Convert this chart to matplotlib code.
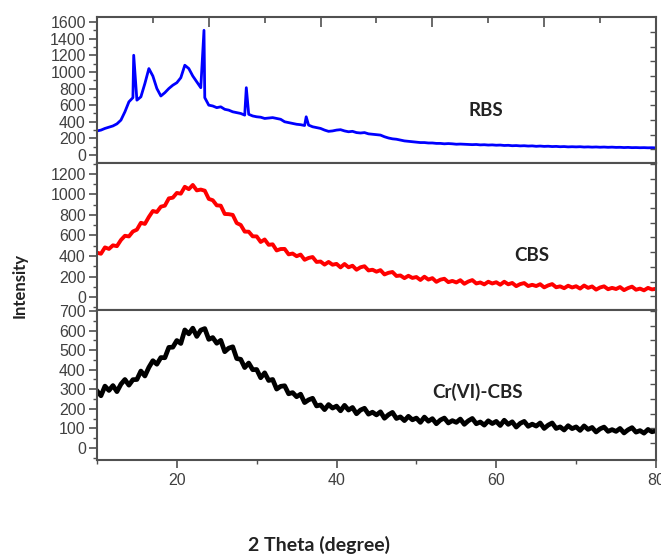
import numpy as np
import matplotlib.pyplot as plt
from matplotlib.ticker import MultipleLocator, FixedLocator, NullFormatter

# 2 theta grid, 0.5 degree steps from 10 to 80
two_theta = np.linspace(10, 80, 141)

# RBS (raw), values
rbs = [
    290, 300, 320, 335, 350, 375, 420, 520, 640, 690,
    660, 700, 860, 1040, 950, 800, 710, 750, 800, 840,
    870, 930, 1080, 1040, 950, 880, 810, 690, 600, 590,
    570, 580, 550, 540, 520, 510, 500, 480, 490, 470,
    460, 455, 440, 445, 450, 440, 430, 400, 390, 380,
    370, 365, 355, 360, 340, 330, 320, 300, 285, 290,
    300, 305, 290, 280, 285, 270, 265, 270, 255, 250,
    245, 240, 220, 205, 195, 190, 180, 170, 165, 160,
    155, 150, 150, 145, 145, 140, 140, 135, 138, 135,
    130, 132, 130, 128, 125, 127, 122, 124, 120, 122,
    118, 120, 115, 117, 112, 114, 110, 112, 108, 110,
    105, 108, 104, 106, 102, 104, 100, 102, 98, 100,
    98, 100, 96, 98, 95, 97, 94, 96, 93, 95,
    92, 93, 90, 92, 89, 90, 88, 89, 87, 88,
    86,
]
# sharp crystalline peaks of RBS
rbs_peak_x = [14.6, 23.4, 28.7, 36.2]
rbs_peak_y = [1200, 1500, 810, 460]

# CBS
cbs = [
    432, 422, 484, 469, 504, 496, 556, 597, 591, 639,
    657, 724, 713, 781, 839, 829, 881, 891, 962, 969,
    1015, 1008, 1075, 1052, 1093, 1040, 1048, 1037, 957, 944,
    894, 891, 810, 808, 801, 721, 703, 638, 637, 592,
    591, 537, 561, 509, 514, 454, 468, 469, 416, 424,
    398, 414, 363, 381, 390, 342, 346, 316, 342, 315,
    323, 289, 322, 290, 305, 266, 290, 300, 259, 266,
    247, 262, 220, 236, 244, 205, 210, 184, 207, 186,
    195, 166, 198, 170, 184, 148, 169, 178, 145, 157,
    142, 164, 129, 151, 165, 132, 142, 123, 149, 132,
    144, 120, 149, 124, 137, 106, 126, 136, 107, 119,
    107, 125, 94, 113, 126, 95, 104, 86, 110, 93,
    105, 82, 112, 89, 103, 72, 93, 104, 76, 89,
    78, 97, 67, 87, 101, 71, 82, 65, 89, 74,
    80,
]

# Cr(VI)-CBS
cr_cbs = [
    292, 267, 316, 294, 319, 288, 326, 350, 321, 349,
    350, 393, 368, 412, 446, 428, 462, 461, 514, 515,
    549, 534, 603, 583, 612, 570, 602, 610, 555, 564,
    535, 550, 492, 510, 517, 457, 453, 411, 434, 400,
    401, 359, 384, 345, 350, 301, 315, 318, 277, 283,
    262, 275, 232, 246, 254, 215, 220, 196, 222, 204,
    214, 190, 218, 194, 207, 175, 194, 203, 173, 183,
    169, 185, 152, 170, 182, 151, 159, 140, 162, 144,
    153, 131, 158, 137, 150, 124, 143, 153, 128, 140,
    131, 148, 121, 139, 151, 124, 133, 117, 139, 125,
    136, 115, 142, 121, 134, 107, 126, 136, 111, 122,
    112, 128, 100, 117, 128, 100, 108, 92, 114, 99,
    108, 90, 113, 95, 105, 82, 98, 107, 85, 94,
    85, 100, 77, 93, 104, 81, 89, 76, 95, 83,
    88,
]

labels = ["RBS", "CBS", "Cr(VI)-CBS"]
colors = ["#0000ff", "#ff0000", "#000000"]

# merge the RBS peaks into its trace
rbs_x = np.concatenate([two_theta, rbs_peak_x])
rbs_y = np.concatenate([rbs, rbs_peak_y])
order = np.argsort(rbs_x)
rbs_x, rbs_y = rbs_x[order], rbs_y[order]

tick_font = "Liberation Sans"
label_font = "Lato"
spine_col = "#505050"
text_col = "#404040"

fig = plt.figure(figsize=(6.61, 5.56), dpi=100)
left, width = 0.1467, 0.8457
ax_top = fig.add_axes([left, 0.7068, width, 0.2626])
ax_mid = fig.add_axes([left, 0.4424, width, 0.2644])
ax_bot = fig.add_axes([left, 0.1727, width, 0.2698])
axes = [ax_top, ax_mid, ax_bot]

ax_top.plot(rbs_x, rbs_y, color=colors[0], lw=2.0)
ax_mid.plot(two_theta, cbs, color=colors[1], lw=2.8)
ax_bot.plot(two_theta, cr_cbs, color=colors[2], lw=3.4)

ax_top.set_ylim(-96, 1660)
ax_mid.set_ylim(-127, 1307)
ax_bot.set_ylim(-61, 705)
ax_top.yaxis.set_major_locator(MultipleLocator(200))
ax_top.yaxis.set_minor_locator(MultipleLocator(100))
ax_mid.yaxis.set_major_locator(MultipleLocator(200))
ax_mid.yaxis.set_minor_locator(MultipleLocator(100))
ax_bot.yaxis.set_major_locator(MultipleLocator(100))
ax_bot.yaxis.set_minor_locator(MultipleLocator(50))

for ax in axes:
    ax.set_xlim(10, 80)
    for s in ax.spines.values():
        s.set_color(spine_col)
        s.set_linewidth(1.5)
    ax.tick_params(axis="y", which="major", direction="out", length=6, width=1.2,
                   color=spine_col, labelcolor=text_col, labelsize=11.5, pad=2)
    ax.tick_params(axis="y", which="minor", direction="out", length=3, width=1.0,
                   color=spine_col)
    for t in ax.get_yticklabels():
        t.set_fontfamily(tick_font)
    ax.tick_params(axis="x", which="both", bottom=False, top=False, labelbottom=False)

ax_bot.xaxis.set_major_locator(MultipleLocator(20))
ax_bot.xaxis.set_minor_locator(MultipleLocator(10))
ax_bot.tick_params(axis="x", which="major", bottom=True, labelbottom=True, direction="out",
                   length=6, width=1.2, color=spine_col, labelcolor=text_col, labelsize=11.5)
ax_bot.tick_params(axis="x", which="minor", bottom=True, direction="out", length=3,
                   width=1.0, color=spine_col)
for t in ax_bot.get_xticklabels():
    t.set_fontfamily(tick_font)

# sample names
ax_top.text(0.696, 0.363, labels[0], transform=ax_top.transAxes, ha="center", va="center",
            fontsize=13.5, fontweight="bold", family=label_font, color="#222222")
ax_mid.text(0.778, 0.374, labels[1], transform=ax_mid.transAxes, ha="center", va="center",
            fontsize=13.5, fontweight="bold", family=label_font, color="#222222")
ax_bot.text(0.680, 0.453, labels[2], transform=ax_bot.transAxes, ha="center", va="center",
            fontsize=13.5, fontweight="bold", family=label_font, color="#222222")

# overlay frame for the ticks along the top and the right edge
over = fig.add_axes([left, 0.1727, width, 0.7968])
over.patch.set_visible(False)
for s in over.spines.values():
    s.set_visible(False)
over.set_xlim(10, 80)
over.set_ylim(460, 17)
over.xaxis.set_major_locator(FixedLocator([24, 38, 52, 66, 80]))
over.xaxis.set_minor_locator(FixedLocator([17, 31, 45, 59, 73]))
over.yaxis.set_major_locator(FixedLocator(np.linspace(32, 443, 29)))
over.xaxis.set_major_formatter(NullFormatter())
over.yaxis.set_major_formatter(NullFormatter())
over.tick_params(axis="x", which="both", bottom=False, top=True, direction="in",
                 color=spine_col, width=1.2)
over.tick_params(axis="x", which="major", length=7)
over.tick_params(axis="x", which="minor", length=4)
over.tick_params(axis="y", which="both", left=False, right=True, direction="in",
                 length=4, width=1.0, color=spine_col)

fig.text(0.030, 0.486, "Intensity", rotation=90, ha="center", va="center",
         fontsize=12, fontweight="bold", family=label_font, color="#222222")
fig.text(0.483, 0.020, "2 Theta (degree)", ha="center", va="center",
         fontsize=14, fontweight="bold", family=label_font, color="#222222")

fig.savefig("out.png", dpi=100)
